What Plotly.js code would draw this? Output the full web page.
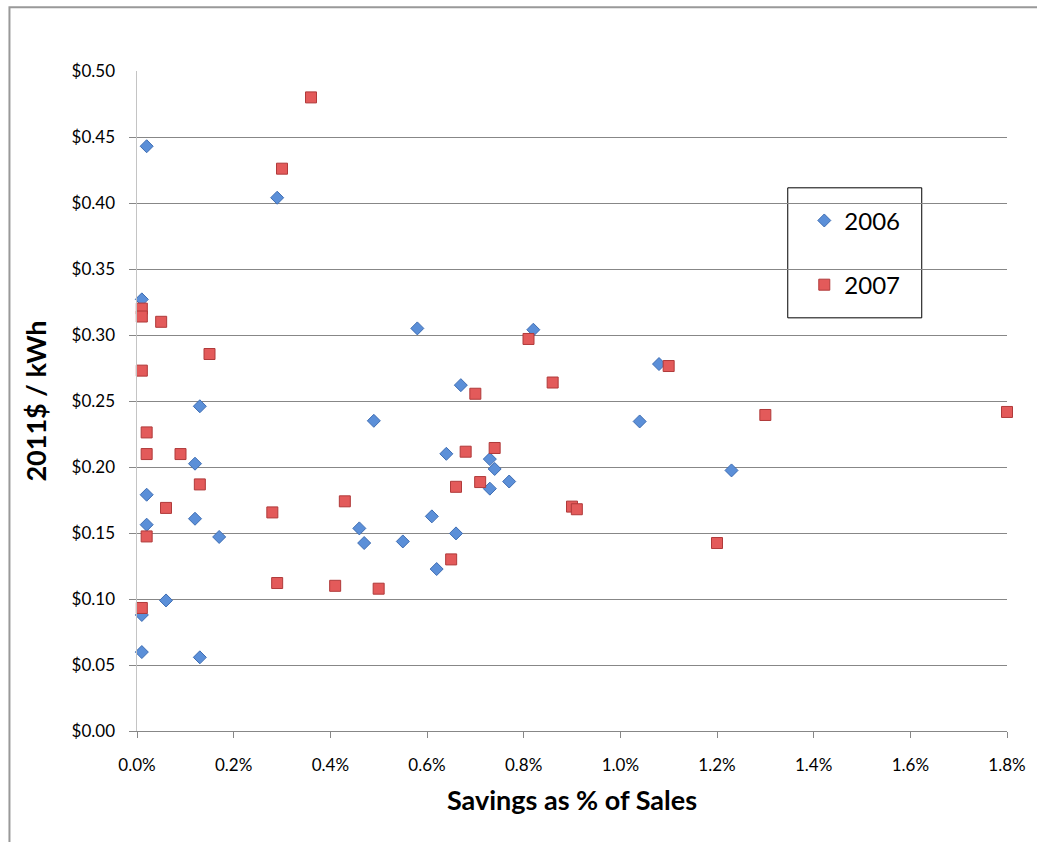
<!DOCTYPE html>
<html>
<head>
<meta charset="utf-8">
<script src="https://cdn.plot.ly/plotly-3.0.1.min.js"></script>
<style>
html,body{margin:0;padding:0;background:#fff;}
#chart{width:1037px;height:842px;}
</style>
</head>
<body>
<div id="chart"></div>
<script>
// Savings as % of Sales (x, in percent) vs 2011$ / kWh (y)
const x2006 = [0.02, 0.29, 0.01, 0.58, 0.82, 1.08, 0.67, 0.13, 0.49, 1.04, 0.64, 0.73, 0.12, 0.74, 1.23, 0.77, 0.73, 0.02, 0.61, 0.12, 0.02, 0.46, 0.66, 0.17, 0.55, 0.47, 0.62, 0.06, 0.01, 0.01, 0.13];
const y2006 = [0.443, 0.404, 0.327, 0.305, 0.304, 0.278, 0.262, 0.246, 0.235, 0.2345, 0.210, 0.206, 0.2025, 0.1985, 0.1974, 0.189, 0.1836, 0.179, 0.1626, 0.1608, 0.1563, 0.1535, 0.1497, 0.147, 0.1436, 0.1424, 0.1227, 0.0989, 0.0879, 0.0598, 0.0558];

const x2007 = [0.36, 0.30, 0.01, 0.01, 0.05, 0.81, 0.15, 1.10, 0.01, 0.86, 0.70, 1.30, 1.80, 0.02, 0.74, 0.68, 0.02, 0.09, 0.71, 0.13, 0.66, 0.43, 0.90, 0.91, 0.06, 0.28, 0.02, 1.20, 0.65, 0.29, 0.41, 0.50, 0.01];
const y2007 = [0.480, 0.426, 0.320, 0.314, 0.310, 0.297, 0.2856, 0.2765, 0.273, 0.264, 0.2555, 0.2394, 0.2417, 0.2262, 0.2144, 0.2116, 0.2098, 0.2098, 0.1886, 0.1868, 0.185, 0.174, 0.170, 0.168, 0.169, 0.1656, 0.1474, 0.1424, 0.130, 0.1121, 0.110, 0.1078, 0.0932];

const seriesNames = ["2006", "2007"];
const xTickVals = [0, 0.2, 0.4, 0.6, 0.8, 1.0, 1.2, 1.4, 1.6, 1.8];
const xTickText = ["0.0%", "0.2%", "0.4%", "0.6%", "0.8%", "1.0%", "1.2%", "1.4%", "1.6%", "1.8%"];
const yGridVals = [0, 0.05, 0.10, 0.15, 0.20, 0.25, 0.30, 0.35, 0.40, 0.45];
const yTickVals = [0, 0.05, 0.10, 0.15, 0.20, 0.25, 0.30, 0.35, 0.40, 0.45, 0.50];
const yTickText = ["$0.00", "$0.05", "$0.10", "$0.15", "$0.20", "$0.25", "$0.30", "$0.35", "$0.40", "$0.45", "$0.50"];
const xTitle = "Savings as % of Sales";
const yTitle = "2011$ / kWh";

const FONT = "Lato, 'Open Sans', sans-serif";
const GRID = "#878787";

const traces = [
  {
    type: "scatter", mode: "markers", name: seriesNames[0],
    x: x2006, y: y2006, cliponaxis: false, legendgroup: "a",
    marker: {symbol: "diamond", size: 10, color: "#5B8FD8", line: {color: "#3E6DB3", width: 1}}
  },
  {
    type: "scatter", mode: "markers", name: seriesNames[1],
    x: x2007, y: y2007, cliponaxis: false, legendgroup: "b",
    marker: {symbol: "square", size: 11, color: "#E35A5A", line: {color: "#B03A3A", width: 1}}
  },
  {
    type: "scatter", mode: "markers", x: [], y: [], yaxis: "y2", showlegend: false, hoverinfo: "skip"
  }
];

const layout = {
  width: 1037, height: 842,
  paper_bgcolor: "#ffffff", plot_bgcolor: "#ffffff",
  margin: {l: 137, r: 30, t: 71, b: 111, pad: 0},
  font: {family: FONT, color: "#000"},
  showlegend: true,
  legend: {
    x: 0.767, xanchor: "left", y: 0.807, yanchor: "top",
    bgcolor: "rgba(0,0,0,0)", borderwidth: 0,
    font: {family: FONT, size: 24, color: "#000"},
    traceorder: "grouped", tracegroupgap: 30
  },
  xaxis: {
    range: [0, 1.8], tickmode: "array", tickvals: xTickVals, ticktext: xTickText,
    showgrid: false, zeroline: false, showline: true, linecolor: GRID, linewidth: 1,
    ticks: "outside", ticklen: 6, tickcolor: GRID, tickwidth: 1,
    tickfont: {family: FONT, size: 17, color: "#000"}, ticklabelstandoff: 13,
    title: {text: xTitle, font: {family: FONT, size: 27, weight: "bold", color: "#000"}, standoff: 16}
  },
  yaxis: {
    range: [0, 0.5], tickmode: "array", tickvals: yGridVals,
    showticklabels: false, showgrid: true, gridcolor: GRID, gridwidth: 1,
    zeroline: false, showline: true, linecolor: "#C4C4C4", linewidth: 1,
    ticks: "outside", ticklen: 7, tickcolor: GRID, tickwidth: 1
  },
  yaxis2: {
    overlaying: "y", side: "left", range: [0, 0.5],
    tickmode: "array", tickvals: yTickVals, ticktext: yTickText,
    showgrid: false, zeroline: false, showline: false, ticks: "",
    tickfont: {family: FONT, size: 17, color: "#000"}, ticklabelstandoff: 21,
    title: {text: yTitle, font: {family: FONT, size: 27, weight: "bold", color: "#000"}, standoff: 17}
  },
  shapes: [
    {type: "rect", xref: "paper", yref: "paper", x0: 0.748, x1: 0.902, y0: 0.626, y1: 0.823,
     line: {color: "#000", width: 1}, fillcolor: "#ffffff", layer: "below"},
    {type: "rect", xref: "paper", yref: "paper", x0: -0.1466, x1: 1.05, y0: -0.18, y1: 1.0965,
     line: {color: "#999999", width: 2}, fillcolor: "rgba(0,0,0,0)", layer: "below"}
  ]
};

Plotly.newPlot("chart", traces, layout, {displayModeBar: false, staticPlot: true});
</script>
</body>
</html>
